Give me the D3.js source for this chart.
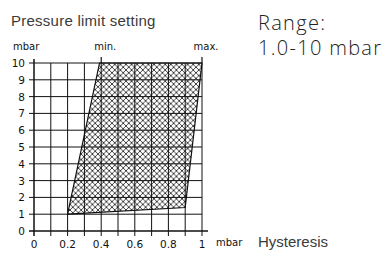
<!DOCTYPE html>
<html>
<head>
<meta charset="utf-8">
<script src="https://cdn.jsdelivr.net/npm/d3@7"></script>
<style>
  body { margin: 0; background: #fff; }
  svg { display: block; }
  .plot text { font-family: "DejaVu Sans", sans-serif; fill: #111; }
  .label { font-family: "Liberation Sans", Arial, sans-serif; fill: #3a3a3a; }
  .range { font-family: "Open Sans", "Liberation Sans", sans-serif; font-weight: 300; fill: #222; }
</style>
</head>
<body>
<div id="chart"></div>
<script>
// Hysteresis (mbar) vs pressure limit setting (mbar)
const xTicks = [0, 0.2, 0.4, 0.6, 0.8, 1];
const xTickLabels = ['0', '0.2', '0.4', '0.6', '0.8', '1'];
const xGrid = [0, 0.1, 0.2, 0.3, 0.4, 0.5, 0.6, 0.7, 0.8, 0.9, 1];
const yTicks = [0, 1, 2, 3, 4, 5, 6, 7, 8, 9, 10];

// boundary of hatched region: min edge and max edge (hysteresis, pressure)
const minEdge = [[0.2, 1.0], [0.39, 10]];
const maxEdge = [[0.9, 1.4], [1.0, 10]];
const markers = [{ h: 0.4, text: 'min.' }, { h: 1.0, text: 'max.' }];

const width = 385, height = 253;
const svg = d3.select('#chart').append('svg')
    .attr('width', width)
    .attr('height', height);

const x = d3.scaleLinear().domain([0, 1]).range([34, 202]);
const y = d3.scaleLinear().domain([0, 10]).range([231, 63]);

// hatch pattern
const step = 5.6;
svg.append('defs').append('pattern')
    .attr('id', 'hatch')
    .attr('patternUnits', 'userSpaceOnUse')
    .attr('width', step)
    .attr('height', step)
    .append('path')
    .attr('d', `M0,0 L${step},${step} M${step},0 L0,${step}`)
    .attr('stroke', '#111')
    .attr('stroke-width', 0.8);

const plot = svg.append('g').attr('class', 'plot');

// hatched region
const poly = [minEdge[0], maxEdge[0], maxEdge[1], minEdge[1]];
plot.append('path')
    .attr('d', 'M' + poly.map(d => `${x(d[0])},${y(d[1])}`).join('L') + 'Z')
    .attr('fill', 'url(#hatch)')
    .attr('stroke', '#111')
    .attr('stroke-width', 1.2);

// grid lines
plot.append('g')
    .selectAll('line')
    .data(yTicks)
    .enter()
    .append('line')
    .attr('x1', x(0) - 5)
    .attr('x2', d => d === 0 ? x(1) + 6 : x(1))
    .attr('y1', d => y(d))
    .attr('y2', d => y(d))
    .attr('stroke', '#111')
    .attr('stroke-width', d => d === 0 ? 1.5 : 1);

plot.append('g')
    .selectAll('line')
    .data(xGrid)
    .enter()
    .append('line')
    .attr('x1', d => x(d))
    .attr('x2', d => x(d))
    .attr('y1', d => d === 0 ? y(10) - 4 : y(10))
    .attr('y2', y(0) + 5)
    .attr('stroke', '#111')
    .attr('stroke-width', d => d === 0 ? 1.5 : 1);

// min / max markers
plot.append('g')
    .selectAll('line')
    .data(markers)
    .enter()
    .append('line')
    .attr('x1', d => x(d.h))
    .attr('x2', d => x(d.h))
    .attr('y1', y(10) - 6)
    .attr('y2', y(10))
    .attr('stroke', '#111')
    .attr('stroke-width', 1.2);

plot.append('g')
    .selectAll('text')
    .data(markers)
    .enter()
    .append('text')
    .attr('x', d => x(d.h) + 4)
    .attr('y', 50)
    .attr('text-anchor', 'middle')
    .style('font-size', '10px')
    .text(d => d.text);

// tick labels
plot.append('g')
    .selectAll('text')
    .data(yTicks)
    .enter()
    .append('text')
    .attr('x', 25)
    .attr('y', d => y(d) + 4)
    .attr('text-anchor', 'end')
    .style('font-size', '10.5px')
    .text(d => d);

plot.append('g')
    .selectAll('text')
    .data(xTicks)
    .enter()
    .append('text')
    .attr('x', (d, i) => x(d))
    .attr('y', 248)
    .attr('text-anchor', 'middle')
    .style('font-size', '10.5px')
    .text((d, i) => xTickLabels[i]);

plot.append('text')
    .attr('x', 13)
    .attr('y', 50)
    .style('font-size', '10px')
    .text('mbar');

plot.append('text')
    .attr('x', 216)
    .attr('y', 246)
    .style('font-size', '10px')
    .text('mbar');

// titles
svg.append('text').attr('class', 'label')
    .attr('x', 11).attr('y', 26)
    .style('font-size', '15px')
    .style('letter-spacing', '0.25px')
    .text('Pressure limit setting');

svg.append('text').attr('class', 'label')
    .attr('x', 258).attr('y', 247)
    .style('font-size', '15px')
    .text('Hysteresis');

svg.append('text').attr('class', 'range')
    .attr('x', 258).attr('y', 30)
    .style('font-size', '20px')
    .style('letter-spacing', '1.3px')
    .text('Range:');

svg.append('text').attr('class', 'range')
    .attr('x', 258).attr('y', 55)
    .style('font-size', '20px')
    .style('letter-spacing', '1.3px')
    .text('1.0-10 mbar');
</script>
</body>
</html>
